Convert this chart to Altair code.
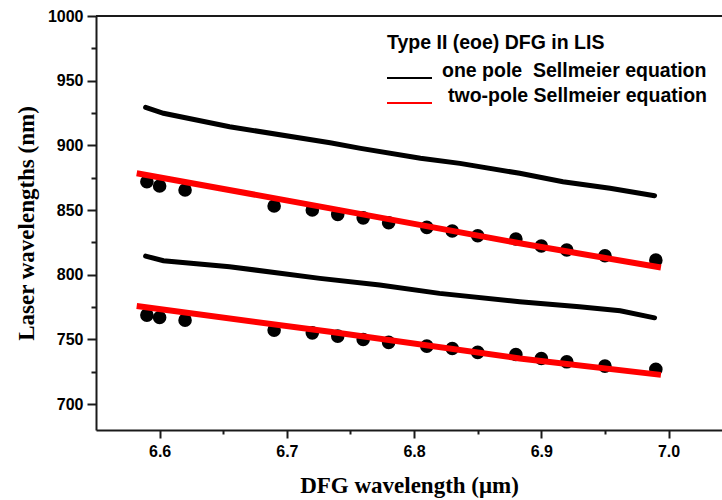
import altair as alt
import pandas as pd

# ---------------- data ----------------
# measured DFG points (µm) and laser wavelengths (nm)
meas_x = [6.59, 6.60, 6.62, 6.69, 6.72, 6.74, 6.76, 6.78, 6.81, 6.83, 6.85, 6.88, 6.90, 6.92, 6.95, 6.99]
meas_upper = [871.9, 868.6, 865.5, 853.1, 850.0, 846.7, 844.0, 840.2, 836.6, 833.8, 830.1, 827.6, 822.2, 819.1, 814.7, 811.3]
meas_lower = [768.8, 767.0, 764.9, 757.2, 755.1, 752.6, 750.0, 747.7, 744.8, 743.0, 740.0, 738.4, 735.3, 732.7, 729.4, 727.0]

# one-pole Sellmeier curves (black)
one_x_upper = [6.589, 6.603, 6.655, 6.734, 6.758, 6.805, 6.836, 6.883, 6.917, 6.954, 6.989]
one_y_upper = [929.4, 924.8, 914.4, 902.0, 897.7, 890.0, 886.1, 878.4, 871.9, 866.8, 861.1]
one_x_lower = [6.589, 6.603, 6.655, 6.726, 6.773, 6.820, 6.883, 6.930, 6.962, 6.989]
one_y_lower = [814.4, 810.8, 806.2, 797.2, 792.0, 785.6, 779.1, 775.2, 772.1, 766.7]

# two-pole Sellmeier curves (red)
two_x = [6.582, 6.734, 6.883, 6.994]
two_y_upper = [878.5, 851.3, 824.3, 805.6]
two_y_lower = [775.8, 755.9, 735.3, 722.6]

x_major = [6.6, 6.7, 6.8, 6.9, 7.0]
x_minor = [6.65, 6.75, 6.85, 6.95]
y_major = [700, 750, 800, 850, 900, 950, 1000]
y_minor = [725, 775, 825, 875, 925, 975]

legend_title = "Type II (eoe) DFG in LIS"
legend_labels = ["one pole\u00a0 Sellmeier equation", "two-pole Sellmeier equation"]

x_title = "DFG wavelength (μm)"
y_title = "Laser wavelengths (nm)"

# ---------------- tables ----------------
meas = pd.concat([
    pd.DataFrame({"x": meas_x, "y": meas_upper, "branch": "upper"}),
    pd.DataFrame({"x": meas_x, "y": meas_lower, "branch": "lower"}),
])
one = pd.concat([
    pd.DataFrame({"x": one_x_upper, "y": one_y_upper, "branch": "upper"}),
    pd.DataFrame({"x": one_x_lower, "y": one_y_lower, "branch": "lower"}),
])
two = pd.concat([
    pd.DataFrame({"x": two_x, "y": two_y_upper, "branch": "upper"}),
    pd.DataFrame({"x": two_x, "y": two_y_lower, "branch": "lower"}),
])

W, H = 626, 414
SANS = "Liberation Sans"
SERIF = "Liberation Serif"
AX = "#1a1a1a"

xscale = alt.Scale(domain=[6.55, 7.042], nice=False, zero=False)
yscale = alt.Scale(domain=[680, 1000], nice=False, zero=False)

x_axis = alt.Axis(
    values=x_major, format=".1f", orient="bottom", grid=False,
    domainColor=AX, domainWidth=2, tickColor=AX, tickWidth=2, tickSize=8,
    labelFont=SANS, labelFontSize=16, labelFontWeight="bold", labelColor="black",
    labelPadding=5, labelFlush=False,
    title=x_title, titleFont=SERIF, titleFontSize=23, titleFontWeight="bold",
    titleColor="black", titleX=313, titleY=62, titleBaseline="alphabetic", titleAlign="center",
)
y_axis = alt.Axis(
    values=y_major, format="d", orient="left", grid=False,
    domainColor=AX, domainWidth=2, tickColor=AX, tickWidth=2, tickSize=9,
    labelFont=SANS, labelFontSize=16, labelFontWeight="bold", labelColor="black",
    labelPadding=4, labelFlush=False,
    title=y_title, titleFont=SERIF, titleFontSize=23, titleFontWeight="bold",
    titleColor="black", titleAngle=270, titleX=-63, titleY=H / 2,
    titleBaseline="alphabetic", titleAlign="center",
)
x_axis_minor = alt.Axis(values=x_minor, orient="bottom", labels=False, domain=False, grid=False,
                        tickColor=AX, tickWidth=2, tickSize=4, title=None)
y_axis_minor = alt.Axis(values=y_minor, orient="left", labels=False, domain=False, grid=False,
                        tickColor=AX, tickWidth=2, tickSize=5, title=None)

points = alt.Chart(meas).mark_circle(size=185, color="black", opacity=1).encode(
    x=alt.X("x:Q", scale=xscale, axis=x_axis),
    y=alt.Y("y:Q", scale=yscale, axis=y_axis),
    detail="branch:N",
)

minor = alt.Chart(meas).mark_point(opacity=0).encode(
    x=alt.X("x:Q", scale=xscale, axis=x_axis_minor),
    y=alt.Y("y:Q", scale=yscale, axis=y_axis_minor),
)

one_lines = alt.Chart(one).mark_line(color="black", strokeWidth=5, strokeCap="round").encode(
    x=alt.X("x:Q", scale=xscale, axis=None),
    y=alt.Y("y:Q", scale=yscale, axis=None),
    detail="branch:N",
)
two_lines = alt.Chart(two).mark_line(color="#ff0000", strokeWidth=6).encode(
    x=alt.X("x:Q", scale=xscale, axis=None),
    y=alt.Y("y:Q", scale=yscale, axis=None),
    detail="branch:N",
)

one_row = pd.DataFrame({"k": [0]})
top_border = alt.Chart(one_row).mark_rule(color=AX, strokeWidth=2).encode(
    x=alt.value(0), x2=alt.value(W), y=alt.value(0)
)

LEG_FS = 19.5
leg_title = alt.Chart(pd.DataFrame({"label": [legend_title]})).mark_text(
    font=SANS, fontSize=LEG_FS, fontWeight="bold", align="left", baseline="alphabetic", color="black"
).encode(x=alt.value(291), y=alt.value(33), text="label:N")
leg_t1 = alt.Chart(pd.DataFrame({"label": [legend_labels[0]]})).mark_text(
    font=SANS, fontSize=LEG_FS, fontWeight="bold", align="left", baseline="alphabetic", color="black"
).encode(x=alt.value(346), y=alt.value(61), text="label:N")
leg_t2 = alt.Chart(pd.DataFrame({"label": [legend_labels[1]]})).mark_text(
    font=SANS, fontSize=LEG_FS, fontWeight="bold", align="left", baseline="alphabetic", color="black"
).encode(x=alt.value(352), y=alt.value(86), text="label:N")
leg_s1 = alt.Chart(one_row).mark_rule(color="black", strokeWidth=2).encode(
    x=alt.value(291), x2=alt.value(336), y=alt.value(62))
leg_s2 = alt.Chart(one_row).mark_rule(color="#ff0000", strokeWidth=2).encode(
    x=alt.value(291), x2=alt.value(336), y=alt.value(87))

chart = alt.layer(
    points, minor, one_lines, two_lines, top_border,
    leg_title, leg_t1, leg_t2, leg_s1, leg_s2,
).resolve_axis(x="independent", y="independent").properties(
    width=W, height=H,
    autosize=alt.AutoSizeParams(type="none"),
    padding={"left": 96, "top": 16, "right": 0, "bottom": 70},
    background="white",
).configure_view(stroke=None)

chart.save("out.html", embed_options={"renderer": "svg", "actions": False})
